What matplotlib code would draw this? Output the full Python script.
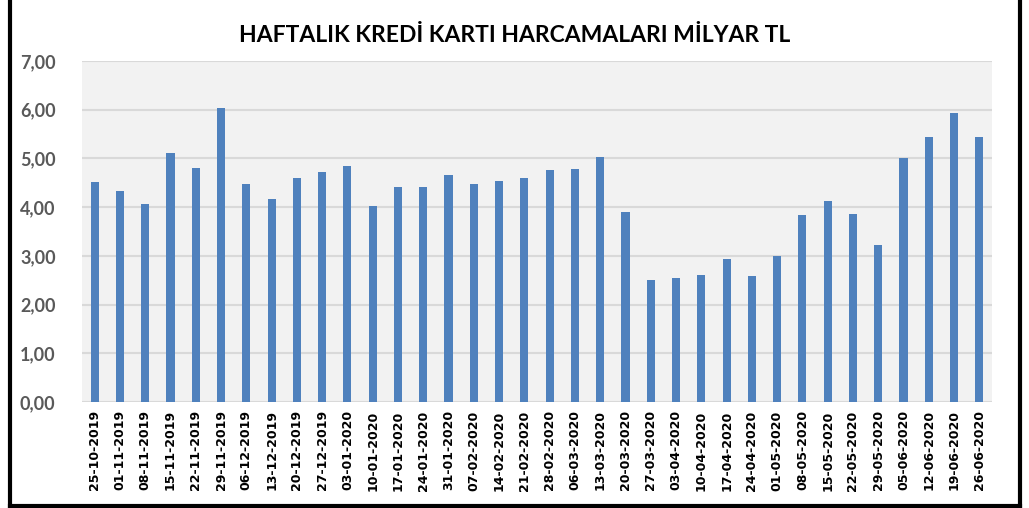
import numpy as np
import matplotlib
matplotlib.use('Agg')
import matplotlib.pyplot as plt
from matplotlib.lines import Line2D

# Datos
tarihler = ['25-10-2019', '01-11-2019', '08-11-2019', '15-11-2019', '22-11-2019',
            '29-11-2019', '06-12-2019', '13-12-2019', '20-12-2019', '27-12-2019',
            '03-01-2020', '10-01-2020', '17-01-2020', '24-01-2020', '31-01-2020',
            '07-02-2020', '14-02-2020', '21-02-2020', '28-02-2020', '06-03-2020',
            '13-03-2020', '20-03-2020', '27-03-2020', '03-04-2020', '10-04-2020',
            '17-04-2020', '24-04-2020', '01-05-2020', '08-05-2020', '15-05-2020',
            '22-05-2020', '29-05-2020', '05-06-2020', '12-06-2020', '19-06-2020',
            '26-06-2020']
harcama = [4.52, 4.34, 4.07, 5.11, 4.81, 6.03, 4.48, 4.16, 4.60, 4.72,
           4.85, 4.03, 4.41, 4.41, 4.67, 4.47, 4.53, 4.60, 4.77, 4.78,
           5.02, 3.90, 2.50, 2.55, 2.60, 2.93, 2.59, 2.99, 3.83, 4.12,
           3.85, 3.22, 5.00, 5.43, 5.94, 5.44]
y_ticks = [0, 1, 2, 3, 4, 5, 6, 7]

fig = plt.figure(figsize=(10.29, 5.08), dpi=100)
ax = fig.add_axes([82/1029, 1 - 402/508, (992-82)/1029, (402-61)/508])

x = np.arange(len(tarihler))
ax.bar(x, harcama, width=0.32, color='#4F81BD', zorder=3)

ax.set_facecolor('#F2F2F2')
ax.set_xlim(-0.5, len(tarihler) - 0.5)
ax.set_ylim(0, 7)
ax.set_yticks(y_ticks)
ax.set_yticklabels([f'{v:.2f}'.replace('.', ',') for v in y_ticks],
                   fontsize=13, fontweight='bold', color='#595959', family='Lato')
ax.set_xticks(x)
ax.set_xticklabels(tarihler, rotation=90, fontsize=9, fontweight='bold', color='black')
ax.grid(axis='y', color='#D9D9D9', linewidth=1.5, zorder=0)
ax.tick_params(length=0, pad=6)
ax.tick_params(axis='y', pad=19)
for s in ax.spines.values():
    s.set_visible(False)

fig.text(0.5, 1 - 35/508, 'HAFTALIK KREDİ KARTI HARCAMALARI MİLYAR TL',
         ha='center', va='center', fontsize=16.5, fontweight='bold', family='Lato')

# Marco negro
for (x0, y0, x1, y1) in [(10, 0, 10, 506), (1020, 0, 1020, 506), (10, 506, 1020, 506)]:
    fig.add_artist(Line2D([x0/1029, x1/1029], [1 - y0/508, 1 - y1/508],
                          color='black', linewidth=3, transform=fig.transFigure))

fig.savefig('out.png', dpi=100)
